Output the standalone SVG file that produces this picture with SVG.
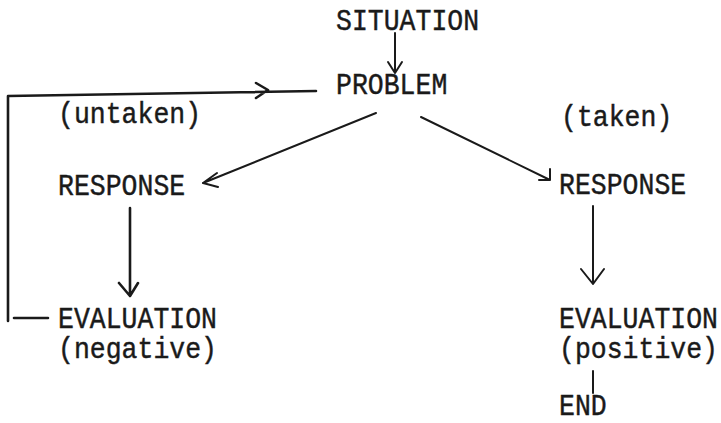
<svg xmlns="http://www.w3.org/2000/svg" width="721" height="423" viewBox="0 0 721 423">
<style>
  .t { font-family: "Liberation Mono", "Courier New", monospace; font-size: 26.5px; fill: #1a1a1a; stroke: #1a1a1a; stroke-width: 0.4px; }
  .c { fill: none; stroke: #1a1a1a; stroke-width: 2px; stroke-linecap: round; stroke-linejoin: round; }
  .b { stroke-width: 2.6px; }
</style>
<rect width="721" height="423" fill="#ffffff"/>
<g id="situation"><text class="t" transform="translate(336,30) scale(1,1.12)">SITUATION</text></g>
<g id="problem"><text class="t" transform="translate(336,94) scale(1,1.12)">PROBLEM</text></g>
<g id="untaken-label"><text class="t" transform="translate(58,123) scale(1,1.12)">(untaken)</text></g>
<g id="taken-label"><text class="t" transform="translate(561,126) scale(1,1.12)">(taken)</text></g>
<g id="response-left"><text class="t" transform="translate(58,195) scale(1,1.12)">RESPONSE</text></g>
<g id="response-right"><text class="t" transform="translate(559,194) scale(1,1.12)">RESPONSE</text></g>
<g id="evaluation-negative">
  <text class="t" transform="translate(58,328) scale(1,1.12)">EVALUATION</text>
  <text class="t" transform="translate(58,358) scale(1,1.12)">(negative)</text>
</g>
<g id="evaluation-positive">
  <text class="t" transform="translate(559,328) scale(1,1.12)">EVALUATION</text>
  <text class="t" transform="translate(559,358) scale(1,1.12)">(positive)</text>
</g>
<g id="end"><text class="t" transform="translate(559,415) scale(1,1.12)">END</text></g>
<g id="connectors">
  <path class="c" d="M395,33 L395,73 M388,62 L395,73 L402,62"/>
  <path class="c" d="M376,113 L203,183 M217,173 L203,183 L218,187"/>
  <path class="c" d="M421,117 L550,180 M550,169 L550,180 L539,180"/>
  <path class="c b" d="M130,208 L130,296 M119,283 L130,296 L138,283"/>
  <path class="c" d="M593,206 L593,284 M581,269 L593,284 L604,269"/>
  <path class="c" d="M593,371 L593,393"/>
  <path class="c b" d="M48,318 L14,318 M8,321 L8,96 L316,91 M256,83 L268,90 L256,98"/>
</g>
</svg>
